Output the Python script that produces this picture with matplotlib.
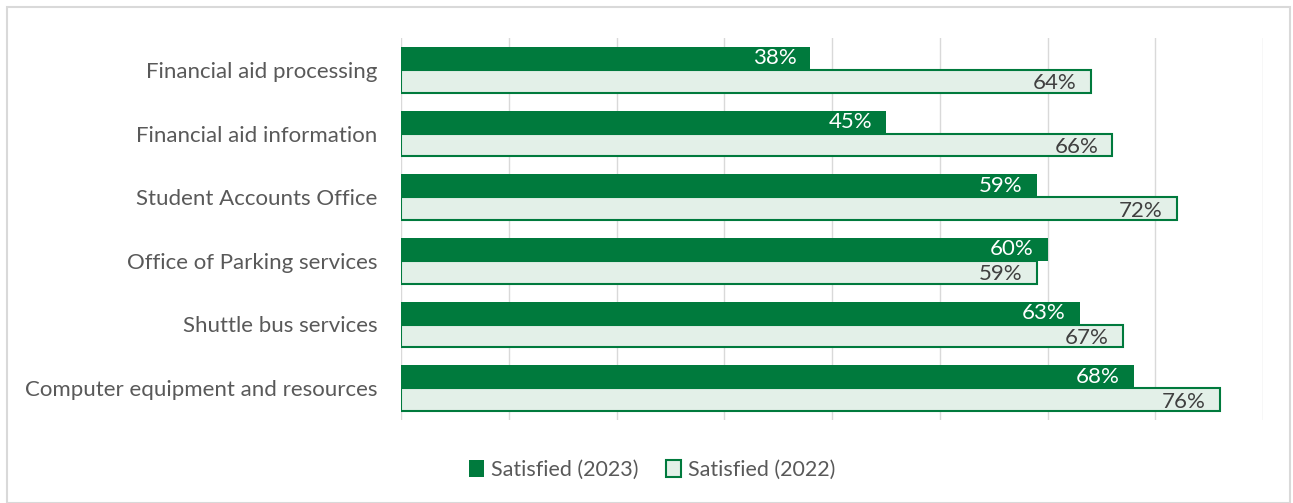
import numpy as np
import matplotlib
matplotlib.use("Agg")
from matplotlib import pyplot as plt
from matplotlib.patches import Rectangle

categories = ["Financial aid processing", "Financial aid information", "Student Accounts Office",
              "Office of Parking services", "Shuttle bus services", "Computer equipment and resources"]
sat_2023 = [38, 45, 59, 60, 63, 68]
sat_2022 = [64, 66, 72, 59, 67, 76]
series_names = ["Satisfied (2023)", "Satisfied (2022)"]

dark = "#007A3D"
light = "#E3F0E8"
plt.rcParams["font.family"] = ["Lato", "DejaVu Sans"]

fig = plt.figure(figsize=(12.93, 5.03), dpi=100)
ax = fig.add_axes([401 / 1293, 1 - 420 / 503, 862 / 1293, 382 / 503])

y = np.arange(len(categories))
h = 0.36
b1 = ax.barh(y - h / 2, sat_2023, height=h, color=dark, label=series_names[0], zorder=3)
b2 = ax.barh(y + h / 2, sat_2022, height=h, color=light, edgecolor=dark, linewidth=1.5,
             label=series_names[1], zorder=3)

for yi, v in zip(y, sat_2023):
    ax.annotate(f"{v}%", (v, yi - h / 2), xytext=(-10, 0), textcoords="offset points",
                ha="right", va="center", color="white", fontsize=16, zorder=4)
for yi, v in zip(y, sat_2022):
    ax.annotate(f"{v}%", (v, yi + h / 2), xytext=(-10, -1.5), textcoords="offset points",
                ha="right", va="center", color="#404040", fontsize=16, zorder=4)

ax.set_xlim(0, 80)
ax.set_ylim(len(categories) - 0.5, -0.5)
ax.set_xticks(np.arange(0, 81, 10))
ax.set_xticklabels([])
ax.tick_params(axis="x", length=0)
ax.grid(axis="x", color="#D9D9D9", linewidth=1, zorder=0)
ax.set_yticks(y)
ax.set_yticklabels(categories, fontsize=16, color="#595959")
ax.tick_params(axis="y", length=0, pad=17)
for s in ax.spines.values():
    s.set_visible(False)

fig.legend(handles=[b1, b2], labels=series_names, loc="center", bbox_to_anchor=(652 / 1293, 1 - 470 / 503),
           ncol=2, frameon=False, fontsize=15.5, handlelength=0.7, handleheight=0.8,
           handletextpad=0.3, columnspacing=1.3, labelcolor="#595959")

fig.add_artist(Rectangle((7 / 1293, 0), 1283 / 1293, 496 / 503, transform=fig.transFigure,
                         fill=False, edgecolor="#D9D9D9", linewidth=1.5))

plt.savefig("out.png", dpi=100)
